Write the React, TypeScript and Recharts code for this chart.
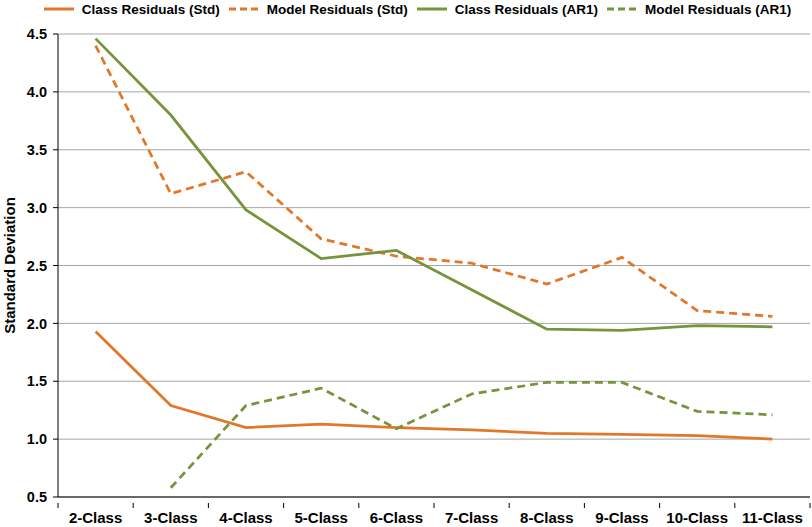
import React from "react";
import { LineChart, Line, XAxis, YAxis, CartesianGrid, Legend } from "recharts";

const categories = ["2-Class", "3-Class", "4-Class", "5-Class", "6-Class", "7-Class", "8-Class", "9-Class", "10-Class", "11-Class"];
const classStd = [1.93, 1.29, 1.10, 1.13, 1.10, 1.08, 1.05, 1.04, 1.03, 1.00];
const modelStd = [4.40, 3.12, 3.31, 2.73, 2.58, 2.52, 2.34, 2.57, 2.11, 2.06];
const classAR1 = [4.46, 3.80, 2.98, 2.56, 2.63, 2.29, 1.95, 1.94, 1.98, 1.97];
const modelAR1: (number | null)[] = [null, 0.58, 1.29, 1.44, 1.09, 1.39, 1.49, 1.49, 1.24, 1.21];
const yTicks = [0.5, 1.0, 1.5, 2.0, 2.5, 3.0, 3.5, 4.0, 4.5];

const seriesNames = ["Class Residuals (Std)", "Model Residuals (Std)", "Class Residuals (AR1)", "Model Residuals (AR1)"];

const ORANGE = "#E2762A";
const GREEN = "#77933C";
const FONT = "'Liberation Sans', Arial, sans-serif";

const data = categories.map((c, i) => ({
  name: c,
  classStd: classStd[i],
  modelStd: modelStd[i],
  classAR1: classAR1[i],
  modelAR1: modelAR1[i],
}));

const W = 812;
const H = 527;
const MARGIN = { top: 14, right: 2, left: 0, bottom: 0 };
const Y_W = 58;
const BAND = (W - MARGIN.left - MARGIN.right - Y_W) / categories.length;

const XTick = (props: any) => {
  const { x, y, payload, index } = props;
  const left = x - BAND / 2;
  const right = x + BAND / 2;
  const isLast = index === categories.length - 1;
  return (
    <g>
      <line x1={left} x2={left} y1={y - 9} y2={y - 4} stroke="#000" strokeWidth={1} />
      {isLast && <line x1={right} x2={right} y1={y - 9} y2={y - 4} stroke="#000" strokeWidth={1} />}
      <text x={x} y={y} dy="0.71em" textAnchor="middle" fontFamily={FONT} fontWeight="bold" fontSize={15} fill="#000">
        {payload.value}
      </text>
    </g>
  );
};

const legendItems = [
  { name: seriesNames[0], color: ORANGE, dash: undefined },
  { name: seriesNames[1], color: ORANGE, dash: "7 4" },
  { name: seriesNames[2], color: GREEN, dash: undefined },
  { name: seriesNames[3], color: GREEN, dash: "7 4" },
];

const LegendContent = () => (
  <div style={{ display: "flex", justifyContent: "center", alignItems: "center", fontFamily: FONT, fontWeight: "bold", fontSize: 13.5, color: "#000", height: 18, paddingLeft: 25 }}>
    {legendItems.map((it, i) => (
      <div key={i} style={{ display: "flex", alignItems: "center", marginLeft: i === 0 ? 0 : 9 }}>
        <svg width={30} height={10} style={{ marginRight: 8 }}>
          <line x1={0} x2={30} y1={5} y2={5} stroke={it.color} strokeWidth={3} strokeDasharray={it.dash} />
        </svg>
        <span>{it.name}</span>
      </div>
    ))}
  </div>
);

export default function App() {
  return (
    <div style={{ position: "absolute", left: 0, top: 0, background: "#fff" }}>
      <LineChart width={W} height={H} data={data} margin={MARGIN}>
        <CartesianGrid horizontal vertical={false} stroke="#A6A6A6" strokeWidth={1} />
        <Legend verticalAlign="top" align="center" height={20} content={<LegendContent />} wrapperStyle={{ top: 0 }} />
        <XAxis
          dataKey="name"
          scale="band"
          height={30}
          axisLine={{ stroke: "#000", strokeWidth: 1 }}
          tickLine={false}
          tick={<XTick />}
          tickMargin={9}
          interval={0}
        />
        <YAxis
          width={Y_W}
          domain={[0.5, 4.5]}
          ticks={yTicks}
          tickFormatter={(v: number) => v.toFixed(1)}
          axisLine={{ stroke: "#000", strokeWidth: 1 }}
          tickLine={{ stroke: "#000" }}
          tickSize={5}
          tickMargin={6}
          tick={{ fontFamily: FONT, fontWeight: "bold", fontSize: 14.5, fill: "#000" }}
          label={{ value: "Standard Deviation", angle: -90, position: "insideLeft", offset: 10, style: { fontFamily: FONT, fontWeight: "bold", fontSize: 15, fill: "#000", textAnchor: "middle" } }}
        />
        <Line dataKey="classStd" name={seriesNames[0]} stroke={ORANGE} strokeWidth={2.75} dot={false} isAnimationActive={false} />
        <Line dataKey="modelStd" name={seriesNames[1]} stroke={ORANGE} strokeWidth={2.75} strokeDasharray="8 5" dot={false} isAnimationActive={false} />
        <Line dataKey="classAR1" name={seriesNames[2]} stroke={GREEN} strokeWidth={2.75} dot={false} isAnimationActive={false} />
        <Line dataKey="modelAR1" name={seriesNames[3]} stroke={GREEN} strokeWidth={2.75} strokeDasharray="8 5" dot={false} isAnimationActive={false} />
      </LineChart>
    </div>
  );
}
